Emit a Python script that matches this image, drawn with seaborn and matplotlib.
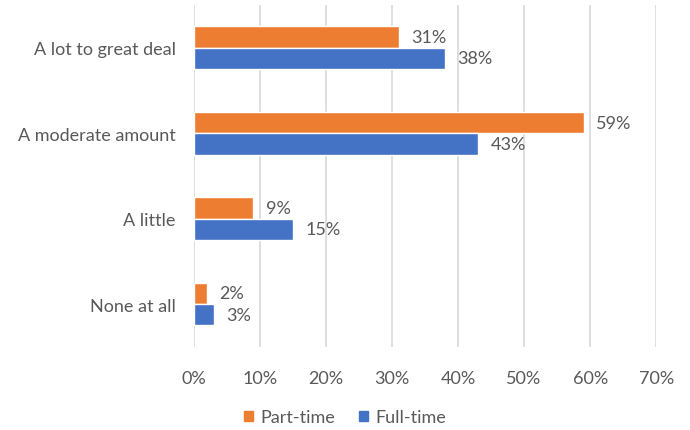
import matplotlib
matplotlib.use("Agg")
import matplotlib.pyplot as plt
import seaborn as sns
import pandas as pd
from matplotlib.ticker import FuncFormatter, MultipleLocator

categories = ["A lot to great deal", "A moderate amount", "A little", "None at all"]
series = ["Part-time", "Full-time"]
part_time = [31, 59, 9, 2]
full_time = [38, 43, 15, 3]
colors = {"Part-time": "#ED7D31", "Full-time": "#4472C4"}

df = pd.DataFrame({
    "category": categories * 2,
    "group": ["Part-time"] * len(categories) + ["Full-time"] * len(categories),
    "value": part_time + full_time,
})

sns.set_theme(style="white")
plt.rcParams["font.family"] = ["Lato", "DejaVu Sans"]
text_color = "#595959"
fs = 13

fig = plt.figure(figsize=(6.9, 4.31), dpi=100)
ax = fig.add_axes([0.281, 0.193, 0.670, 0.793])

sns.barplot(data=df, y="category", x="value", hue="group", order=categories,
            hue_order=series, palette=colors, orient="h", width=0.5,
            saturation=1, ax=ax, legend=False)

ax.set_xlim(0, 70)
ax.xaxis.set_major_locator(MultipleLocator(10))
ax.xaxis.set_major_formatter(FuncFormatter(lambda v, _: f"{v:.0f}%"))
ax.grid(axis="x", color="#D9D9D9", linewidth=1.2)
ax.set_axisbelow(True)
for s in ax.spines.values():
    s.set_visible(False)
ax.set_xlabel("")
ax.set_ylabel("")
ax.tick_params(axis="both", length=0, labelsize=fs, colors=text_color)
ax.tick_params(axis="x", pad=17)
ax.tick_params(axis="y", pad=13)

for cont in ax.containers:
    labels = [f"{b.get_width():.0f}%" for b in cont]
    ax.bar_label(cont, labels=labels, padding=9, fontsize=fs, color=text_color)

handles = [plt.Rectangle((0, 0), 1, 1, color=colors[s]) for s in series]
fig.legend(handles, series, loc="center", bbox_to_anchor=(0.5, 0.03), ncol=2,
           frameon=False, fontsize=fs, labelcolor=text_color,
           handlelength=0.5, handleheight=0.5, handletextpad=0.4, columnspacing=1.3)

fig.savefig("out.png", dpi=100)
